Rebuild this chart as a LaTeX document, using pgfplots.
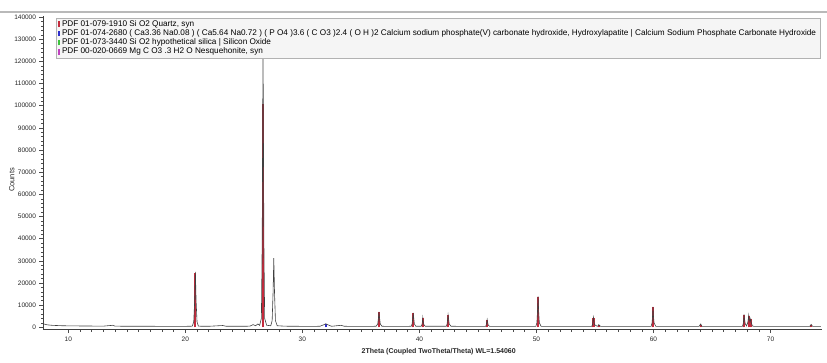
\documentclass[border=0pt]{standalone}
\usepackage{pgfplots}
\pgfplotsset{compat=1.18}
\usepackage{fontspec}
\setmainfont{Liberation Sans}
\definecolor{qred}{HTML}{C42A3C}
\definecolor{hblue}{HTML}{2E2ECC}
\definecolor{sgreen}{HTML}{3CC43C}
\definecolor{nmag}{HTML}{C040C0}
\definecolor{patt}{HTML}{404040}
\pgfplotstableread{
x y
7.84 1600
8.2 1100
8.6 900
9.0 800
9.5 700
10 650
11 600
12 560
13 520
13.8 900
14 500
15 480
16 460
17 450
18 440
19 430
20 430
20.6 500
20.72 2500
20.8 12000
20.86 25000
20.92 12000
21.0 2500
21.12 500
22 450
23.2 800
23.5 450
24.5 450
25.5 500
25.8 1200
26.0 700
26.2 1500
26.35 900
26.5 4000
26.57 40000
26.64 128000
26.71 40000
26.78 4000
26.95 900
27.3 700
27.42 3000
27.5 16000
27.56 31200
27.62 16000
27.7 3000
27.85 700
28.5 500
29.5 450
30.5 430
31.5 450
31.85 1200
32.0 1600
32.15 1200
32.5 450
33.3 900
33.6 450
35 420
36.3 450
36.44 1500
36.5 4000
36.54 7000
36.6 4000
36.66 1500
36.8 450
38 420
39.3 450
39.38 1500
39.43 4000
39.47 6500
39.52 4000
39.57 1500
39.7 450
40.15 450
40.22 1200
40.26 2500
40.29 4300
40.33 2500
40.38 1200
40.5 450
42.3 450
42.37 1500
42.41 3500
42.45 5600
42.5 3500
42.55 1500
42.7 450
45.65 420
45.71 1000
45.75 2200
45.79 3500
45.83 2200
45.88 1000
46 420
49.95 420
50.04 2000
50.09 7000
50.14 14000
50.19 7000
50.25 2000
50.4 420
54.72 420
54.79 1200
54.83 2800
54.87 4500
54.91 2800
54.96 1200
55.2 420
55.28 800
55.33 1200
55.38 800
55.5 420
59.8 420
59.88 2000
59.92 5000
59.96 9200
60.0 5000
60.05 2000
60.2 420
63.9 420
64.03 1500
64.15 420
67.6 420
67.67 1500
67.71 3500
67.74 5800
67.78 3500
67.85 1500
67.95 600
68.05 2000
68.1 3500
68.14 5500
68.19 3500
68.24 2500
68.31 3800
68.36 2000
68.45 600
68.6 420
73.35 400
73.47 1300
73.6 400
74.3 380
}\pattern
\pgfplotstableread{
x y
20.86 24500
26.64 101000
36.54 6800
39.47 6300
40.29 4100
42.45 5400
45.79 3300
50.14 13500
54.87 4300
55.33 1000
59.96 9000
64.03 1000
67.74 5600
68.14 5300
68.31 3600
73.47 1000
}\quartz
\pgfplotstableread{
x y
32.0 1500
}\hap
\begin{document}
\begin{tikzpicture}
\useasboundingbox (-43pt,-32.5pt) rectangle (784pt,329.5pt);
\draw[gray!55, line width=1.2pt] (-43pt,317.5pt) -- (784pt,317.5pt);
\begin{axis}[
  scale only axis,
  width=779pt, height=313.5pt,
  xmin=7.84, xmax=74.4,
  ymin=-1000, ymax=140500,
  axis x line=bottom, axis y line=left,
  axis line style={-, black!75, line width=0.6pt},
  xtick={10,20,...,70},
  minor x tick num=9,
  ytick={0,10000,...,140000},
  minor y tick num=4,
  tick align=outside,
  major tick length=3.5pt, minor tick length=2pt,
  tick style={black!70, line width=0.5pt},
  scaled ticks=false,
  /pgf/number format/.cd, fixed, 1000 sep={}, assume math mode=true,
  /pgfplots/.cd,
  tick label style={font=\fontsize{6.5}{7}\selectfont, black!85},
  xlabel={2Theta (Coupled TwoTheta/Theta) WL=1.54060},
  ylabel={Counts},
  xlabel style={font=\fontsize{7}{8}\selectfont\bfseries, black!85, at={(axis description cs:0.508,-0.072)}, anchor=center},
  ylabel style={font=\fontsize{7.5}{8}\selectfont, black!85, at={(axis description cs:-0.040,0.477)}, anchor=center},
  clip=false,
  legend cell align=left,
  legend image code/.code={\draw[#1, line width=1.8pt] (0.08cm,-2.8pt) -- (0.08cm,2.8pt);},
  legend style={at={(rel axis cs:0.0167,0.995)}, anchor=north west,
    font=\fontsize{8.2}{8.7}\selectfont, fill=black!4, draw=black!30,
    inner xsep=2pt, inner ysep=2.5pt, row sep=1.3pt,
    nodes={inner xsep=2pt, inner ysep=0.2pt, text height=5.9pt, text depth=1.6pt}},
]
\addlegendimage{qred}
\addlegendentry{PDF 01-079-1910 Si O2 Quartz, syn}
\addlegendimage{hblue}
\addlegendentry{PDF 01-074-2680 ( Ca3.36 Na0.08 ) ( Ca5.64 Na0.72 ) ( P O4 )3.6 ( C O3 )2.4 ( O H )2 Calcium sodium phosphate(V) carbonate hydroxide, Hydroxylapatite | Calcium Sodium Phosphate Carbonate Hydroxide}
\addlegendimage{sgreen}
\addlegendentry{PDF 01-073-3440 Si O2 hypothetical silica | Silicon Oxide}
\addlegendimage{nmag}
\addlegendentry{PDF 00-020-0669 Mg C O3 .3 H2 O Nesquehonite, syn}
\addplot[forget plot, ycomb, qred, line width=2.2pt, no marks] table[x=x,y=y] {\quartz};
\addplot[forget plot, ycomb, hblue, line width=2.5pt, no marks] table[x=x,y=y] {\hap};
\addplot[forget plot, patt, line width=0.6pt, no marks] table[x=x,y=y] {\pattern};
\end{axis}
\end{tikzpicture}
\end{document}
